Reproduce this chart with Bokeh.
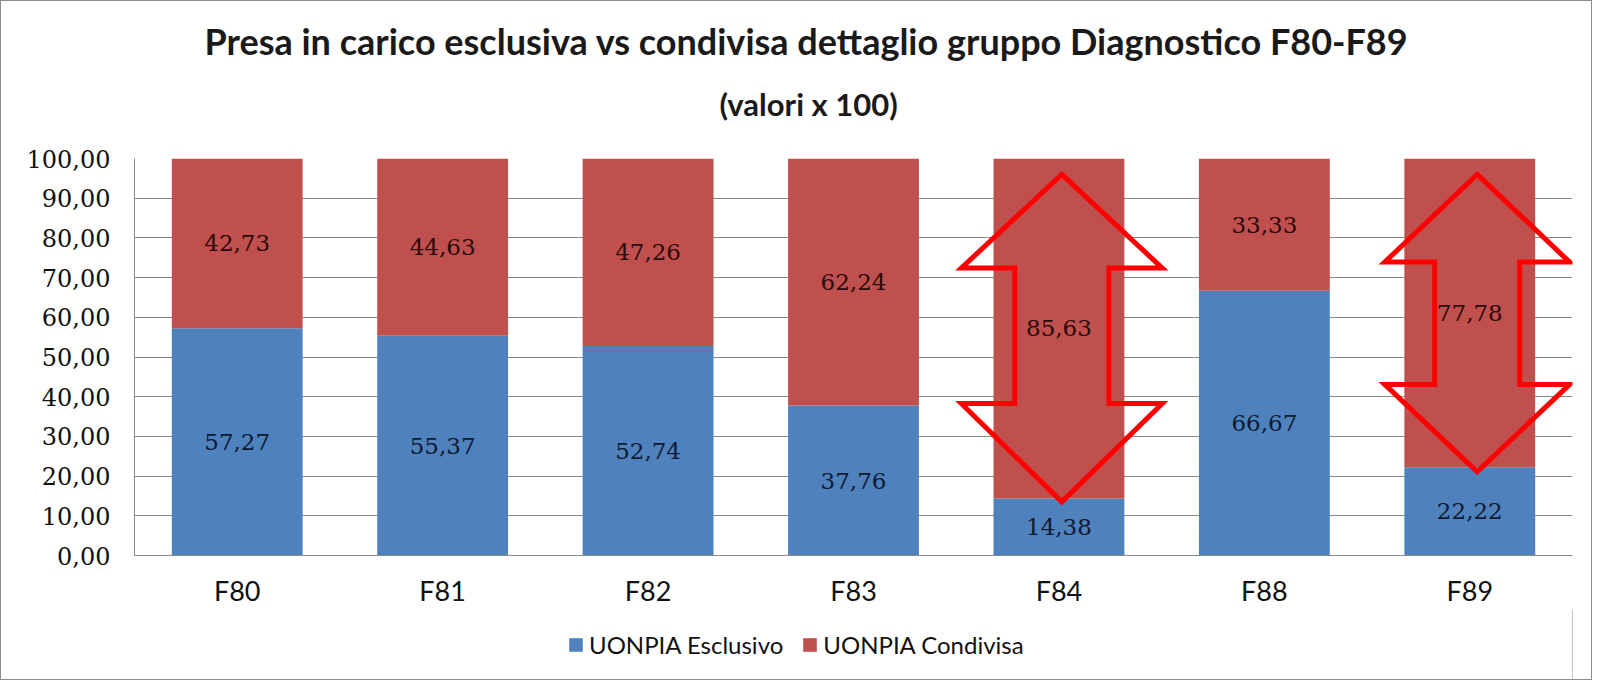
from bokeh.plotting import figure
from bokeh.layouts import column
from bokeh.models import (Range1d, FactorRange, Title, Legend, LegendItem,
                          ColumnDataSource, FixedTicker, CustomJSTickFormatter)
from bokeh.core.properties import value
from bokeh.embed import file_html
from bokeh.resources import INLINE

# ---------------- data ----------------
categories = ["F80", "F81", "F82", "F83", "F84", "F88", "F89"]
esclusivo = [57.27, 55.37, 52.74, 37.76, 14.38, 66.67, 22.22]
condivisa = [42.73, 44.63, 47.26, 62.24, 85.63, 33.33, 77.78]
series_names = ["UONPIA Esclusivo", "UONPIA Condivisa"]
y_ticks = [0, 10, 20, 30, 40, 50, 60, 70, 80, 90, 100]

# highlighted categories (double arrows): category, top tip, upper head base, lower head base, bottom tip
arrow_cats = ["F84", "F89"]
arrow_top = [96.0, 96.0]
arrow_head_top = [72.4, 73.9]
arrow_head_bot = [38.3, 43.1]
arrow_bottom = [13.5, 21.1]
arrow_head_half = [0.489, 0.45]
arrow_shaft_half = [0.229, 0.207]
arrow_shift = [0.014, 0.036]

BLUE = "#4F81BD"
RED = "#C0504D"
SANS = "Lato"
SERIF = "DejaVu Serif"

def fmt(v):
    return f"{v:.2f}".replace(".", ",")

p = figure(width=1590, height=608, x_range=FactorRange(*categories, range_padding=0),
           y_range=Range1d(0, 100), output_backend="svg", toolbar_location=None,
           min_border_left=133, min_border_right=19, min_border_top=157, min_border_bottom=53,
           background_fill_color="white", border_fill_color="white")
p.outline_line_color = None

src = ColumnDataSource(dict(cat=categories, esc=esclusivo, cond=condivisa))
rs = p.vbar_stack(["esc", "cond"], x="cat", width=0.637, source=src,
                  color=[BLUE, RED], line_color=None)

# value labels
lab = ColumnDataSource(dict(
    x=categories + categories,
    y=[e / 2 for e in esclusivo] + [e + c / 2 for e, c in zip(esclusivo, condivisa)],
    t=[fmt(v) for v in esclusivo] + [fmt(v) for v in condivisa],
    col=["#0d1a33"] * len(categories) + ["#2a0a0a"] * len(categories),
))
p.text(x="x", y="y", text="t", source=lab, text_align="center", text_baseline="middle",
       text_font=value(SERIF), text_font_size="23px", text_color="col")

# double arrows
xs, ys = [], []
for cat, t, ht, hb, b, hw, sw, sh in zip(arrow_cats, arrow_top, arrow_head_top, arrow_head_bot,
                                          arrow_bottom, arrow_head_half, arrow_shaft_half, arrow_shift):
    xs.append([(cat, sh), (cat, sh + hw), (cat, sh + sw), (cat, sh + sw), (cat, sh + hw),
               (cat, sh), (cat, sh - hw), (cat, sh - sw), (cat, sh - sw), (cat, sh - hw)])
    ys.append([t, ht, ht, hb, hb, b, hb, hb, ht, ht])
p.patches(xs=xs, ys=ys, fill_color=None, line_color="#FF0000", line_width=5, line_join="miter")

# axes / grid
p.yaxis.ticker = FixedTicker(ticks=y_ticks)
p.yaxis.formatter = CustomJSTickFormatter(code="return tick.toFixed(2).replace('.', ',');")
p.yaxis.major_label_text_font = SERIF
p.yaxis.major_label_text_font_size = "24px"
p.yaxis.major_label_text_color = "#111111"
p.yaxis.major_label_standoff = 18
p.yaxis.major_tick_line_color = None
p.yaxis.minor_tick_line_color = None
p.yaxis.axis_line_color = "#8a8a8a"

p.xaxis.major_label_text_font = SANS
p.xaxis.major_label_text_font_size = "27px"
p.xaxis.major_label_text_color = "#111111"
p.xaxis.major_label_standoff = 12
p.xaxis.major_tick_line_color = None
p.xaxis.axis_line_color = "#8a8a8a"

p.xgrid.grid_line_color = None
p.ygrid.grid_line_color = "#8a8a8a"
p.ygrid.ticker = FixedTicker(ticks=y_ticks)

# titles
p.add_layout(Title(text="(valori x 100)", align="left", offset=585, standoff=72,
                   text_font=SANS, text_font_size="31px", text_font_style="bold",
                   text_color="#1a1a1a"), "above")
p.add_layout(Title(text="Presa in carico esclusiva vs condivisa dettaglio gruppo Diagnostico F80-F89",
                   align="left", offset=70, standoff=-33,
                   text_font=SANS, text_font_size="36px", text_font_style="bold",
                   text_color="#1a1a1a"), "above")

# legend strip (separate figure so the legend is not clipped)
lg = figure(width=1590, height=70, x_range=Range1d(0, 1), y_range=Range1d(0, 1),
            output_backend="svg", toolbar_location=None,
            x_axis_location=None, y_axis_location=None,
            min_border_left=133, min_border_right=19, min_border_top=0, min_border_bottom=0,
            background_fill_color="white", border_fill_color="white")
lg.outline_line_color = None
lg.grid.visible = False
# legend-only renderers: their single bar lies outside the visible range
dummy = ColumnDataSource(dict(x=[5], top=[5]))
r_esc = lg.vbar(x="x", top="top", width=0.1, source=dummy, color=BLUE, line_color=None)
r_cond = lg.vbar(x="x", top="top", width=0.1, source=dummy, color=RED, line_color=None)

legend = Legend(items=[LegendItem(label=series_names[0], renderers=[r_esc]),
                       LegendItem(label=series_names[1], renderers=[r_cond])],
                location=(433, 20), orientation="horizontal",
                label_text_font=SANS, label_text_font_size="24px", label_text_color="#111111",
                glyph_width=17, glyph_height=17, label_standoff=5, label_height=30, spacing=18,
                padding=0, margin=0, border_line_color=None, background_fill_alpha=0)
lg.add_layout(legend, "center")

layout = column(p, lg, spacing=0)
layout.styles = {"border": "1px solid #8c8c8c"}

open("out.html", "w").write(file_html(layout, INLINE))
